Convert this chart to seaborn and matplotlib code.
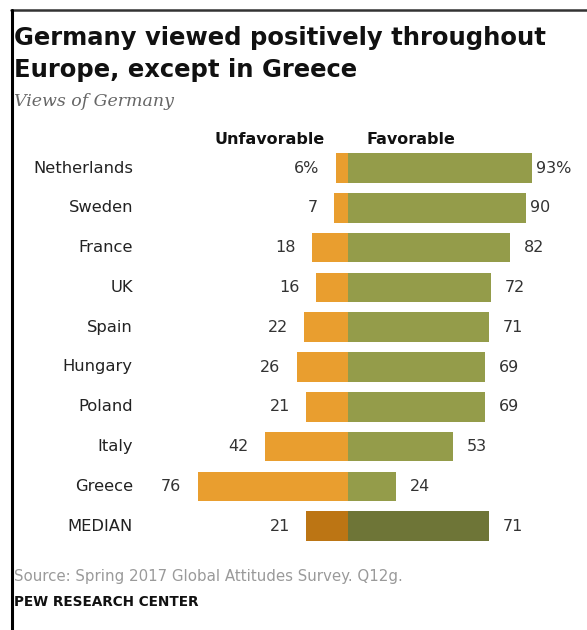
import matplotlib
matplotlib.use("Agg")
import matplotlib.pyplot as plt
import seaborn as sns
import pandas as pd
from matplotlib.lines import Line2D

# Data
countries = ["Netherlands", "Sweden", "France", "UK", "Spain", "Hungary",
             "Poland", "Italy", "Greece", "MEDIAN"]
unfavorable = [6, 7, 18, 16, 22, 26, 21, 42, 76, 21]
favorable = [93, 90, 82, 72, 71, 69, 69, 53, 24, 71]

sns.set_style("white")
plt.rcParams["font.family"] = ["DejaVu Sans"]

unfav_colors = ["#E99E2F"] * 9 + ["#BC7514"]
fav_colors = ["#949C4A"] * 9 + ["#6E7537"]

df = pd.DataFrame({"country": countries, "unfav": [-v for v in unfavorable],
                   "fav": favorable})

W, H = 587, 630
fig = plt.figure(figsize=(W / 100, H / 100), dpi=100)
ax = fig.add_axes([0, 0, 1, 1])

sns.barplot(data=df, x="fav", y="country", hue="country", palette=fav_colors,
            orient="h", width=0.74, legend=False, ax=ax, edgecolor="none",
            saturation=1)
sns.barplot(data=df, x="unfav", y="country", hue="country", palette=unfav_colors,
            orient="h", width=0.74, legend=False, ax=ax, edgecolor="none",
            saturation=1)

# map data to pixel layout: zero at x=348px, ~1.98 px per point
zero_px, px_per = 348, 1.98
ax.set_xlim(-zero_px / px_per, (W - zero_px) / px_per)
row0, row_h = 168, 39.8
ax.set_ylim((H - row0) / row_h, -row0 / row_h)
ax.axis("off")

for i, (c, u, f) in enumerate(zip(countries, unfavorable, favorable)):
    ul = f"{u}%" if i == 0 else str(u)
    fl = f"{f}%" if i == 0 else str(f)
    ax.annotate(ul, (-u, i), xytext=(-12, 0), textcoords="offset points",
                ha="right", va="center", fontsize=11.5, color="#333333")
    ax.annotate(fl, (f, i), xytext=(3 if i < 2 else 10, 0),
                textcoords="offset points", ha="left", va="center",
                fontsize=11.5, color="#333333")
    ax.text((133 - zero_px) / px_per, i, c, ha="right", va="center",
            fontsize=11.8, color="#222222")

# column headers
fig.text(270 / W, 1 - 140 / H, "Unfavorable", ha="center", va="center",
         fontsize=11.5, fontweight="bold", color="#111111")
fig.text(366 / W, 1 - 140 / H, "Favorable", ha="left", va="center",
         fontsize=11.5, fontweight="bold", color="#111111")

# title block
fig.text(14 / W, 1 - 38 / H, "Germany viewed positively throughout",
         ha="left", va="center", fontsize=17.5, fontweight="bold", color="#111111")
fig.text(14 / W, 1 - 70 / H, "Europe, except in Greece",
         ha="left", va="center", fontsize=17.5, fontweight="bold", color="#111111")
fig.text(14 / W, 1 - 102 / H, "Views of Germany", ha="left", va="center",
         fontsize=12.5, style="italic", color="#666666",
         family=["DejaVu Serif"])

# footer
fig.text(14 / W, 1 - 577 / H, "Source: Spring 2017 Global Attitudes Survey. Q12g.",
         ha="left", va="center", fontsize=10.8, color="#9A9A9A")
fig.text(14 / W, 1 - 602 / H, "PEW RESEARCH CENTER", ha="left", va="center",
         fontsize=9.8, fontweight="bold", color="#111111")

# frame lines
fig.add_artist(Line2D([11 / W, 1], [1 - 10 / H, 1 - 10 / H], color="#333333",
                      linewidth=1.8, transform=fig.transFigure))
fig.add_artist(Line2D([12 / W, 12 / W], [0, 1 - 10 / H], color="black",
                      linewidth=2.2, transform=fig.transFigure))

fig.savefig("out.png", dpi=100)
